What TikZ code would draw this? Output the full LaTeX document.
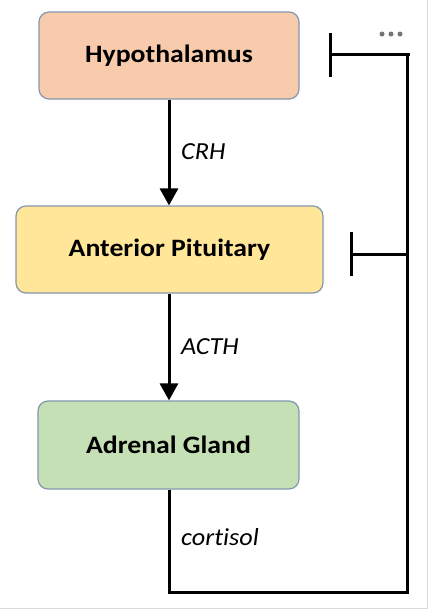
\documentclass[tikz,border=0pt]{standalone}
\usepackage{fontspec}
\setmainfont{Carlito}[Ligatures=NoCommon]
\usetikzlibrary{arrows.meta}
\definecolor{hypfill}{HTML}{F8CBAD}
\definecolor{antfill}{HTML}{FFE699}
\definecolor{adrfill}{HTML}{C5E0B4}
\definecolor{boxline}{HTML}{8497B0}
\definecolor{framegray}{HTML}{D9D9D9}
\definecolor{dotgray}{HTML}{767676}
\tikzset{
  organ/.style={draw=boxline, line width=1.2pt, rounded corners=10pt, inner sep=0pt,
    font=\fontsize{25}{29}\selectfont\bfseries},
  hormone/.style={anchor=west, inner sep=0pt, font=\fontsize{24.5}{28}\selectfont\itshape},
  flow/.style={line width=3pt, -{Triangle[width=18pt,length=17pt]}},
  fb/.style={line width=3pt},
  inhibit/.style={line width=3pt, -{Bar[width=44pt]}},
  dot/.style={circle, fill=dotgray, inner sep=0pt, minimum size=5pt}
}
\newcommand{\wideA}[1]{\scalebox{1.11}[1]{#1}}
\newcommand{\wideB}[1]{\scalebox{1.07}[1]{#1}}
\begin{document}
\begin{tikzpicture}[x=1pt,y=-1pt]
\useasboundingbox (0,0) rectangle (443,614);
\fill[white] (0,0) rectangle (443,614);
% frame
\draw[framegray, line width=1pt] (427,0) -- (427,608) -- (0,608);
% boxes
\node[organ, fill=hypfill, minimum width=260pt, minimum height=87pt] (hyp) at (169,55.5) {\wideA{Hypothalamus}};
\node[organ, fill=antfill, minimum width=307pt, minimum height=87pt] (ant) at (169.5,249.5) {\wideA{Anterior Pituitary}};
\node[organ, fill=adrfill, minimum width=261pt, minimum height=88pt] (adr) at (168.5,445) {\wideA{Adrenal Gland}};
% stimulatory arrows
\draw[flow] (hyp.south) -- (hyp.south |- ant.north);
\draw[flow] (ant.south -| hyp.south) -- (hyp.south |- adr.north);
% labels
\node[hormone] (crh) at (181,152) {\wideB{CRH}};
\node[hormone] (acth) at (181,347) {\wideB{ACTH}};
\node[hormone] (cort) at (181,537) {\wideB{cortisol}};
% feedback
\coordinate (fbBR) at (407,592);
\coordinate (fbTR) at (407,54.5);
\coordinate (barH) at (328.5,54.5);
\coordinate (barA) at (350,254);
\draw[fb] (hyp.south |- adr.south) -- (hyp.south |- fbBR) -- (fbBR) -- (fbTR);
\draw[inhibit] (410,54.5) -- (barH);
\draw[inhibit] (barA -| fbBR) -- (barA);
% dots
\node[dot] (d1) at (382,34) {};
\node[dot] (d2) at (391,34) {};
\node[dot] (d3) at (400,34) {};
\end{tikzpicture}
\end{document}
